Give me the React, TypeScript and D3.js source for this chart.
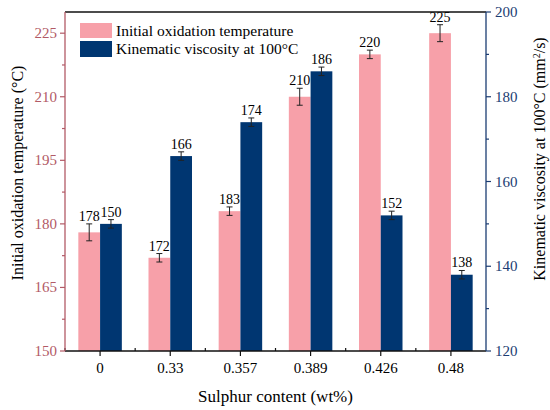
import React from "react";
import * as d3 from "d3";

const categories = ["0", "0.33", "0.357", "0.389", "0.426", "0.48"];
const oxidationTemp = [178, 172, 183, 210, 220, 225];
const oxidationErr = [2, 1, 1, 2, 1, 2];
const viscosity = [150, 166, 174, 186, 152, 138];
const viscosityErr = [1, 1, 1, 1, 1, 1];
const leftTicks = [150, 165, 180, 195, 210, 225];
const leftMinor = [157.5, 172.5, 187.5, 202.5, 217.5];
const rightTicks = [120, 140, 160, 180, 200];
const rightMinor = [130, 150, 170, 190];

const width = 550;
const height = 410;
const marginTop = 12;
const marginRight = 64;
const marginBottom = 59;
const marginLeft = 65;

const pink = "#f7a0a9";
const navy = "#003671";
const leftColor = "#b25a66";
const rightColor = "#1b3c72";
const font = "Liberation Serif, Times New Roman, serif";

export default function App() {
  const x = d3.scaleBand(categories, [marginLeft, width - marginRight]);
  const yL = d3.scaleLinear([150, 230], [height - marginBottom, marginTop]);
  const yR = d3.scaleLinear([120, 200], [height - marginBottom, marginTop]);
  const bw = x.bandwidth() * 0.31;
  const bottom = height - marginBottom;
  const right = width - marginRight;
  const cx = (c: string) => (x(c) ?? 0) + x.bandwidth() / 2;

  const errBar = (xc: number, y0: number, y1: number, key: string) => (
    <g key={key} stroke="#222" strokeWidth={1}>
      <line x1={xc} x2={xc} y1={y0} y2={y1} />
      <line x1={xc - 3} x2={xc + 3} y1={y0} y2={y0} />
      <line x1={xc - 3} x2={xc + 3} y1={y1} y2={y1} />
    </g>
  );

  return (
    <svg width={width} height={height} fontFamily={font} style={{ position: "absolute", left: 0, top: 0 }}>
      <rect width={width} height={height} fill="white" />

      {/* bars */}
      {categories.map((c, i) => (
        <g key={c}>
          <rect x={cx(c) - bw} y={yL(oxidationTemp[i])} width={bw} height={bottom - yL(oxidationTemp[i])} fill={pink} />
          <rect x={cx(c)} y={yR(viscosity[i])} width={bw} height={bottom - yR(viscosity[i])} fill={navy} />
          {errBar(cx(c) - bw / 2, yL(oxidationTemp[i] + oxidationErr[i]), yL(oxidationTemp[i] - oxidationErr[i]), "e1")}
          {errBar(cx(c) + bw / 2, yR(viscosity[i] + viscosityErr[i]), yR(viscosity[i] - viscosityErr[i]), "e2")}
          <text x={cx(c) - bw / 2} y={yL(oxidationTemp[i] + oxidationErr[i]) - 3} textAnchor="middle" fontSize={14}>
            {oxidationTemp[i]}
          </text>
          <text x={cx(c) + bw / 2} y={yR(viscosity[i] + viscosityErr[i]) - 3} textAnchor="middle" fontSize={14}>
            {viscosity[i]}
          </text>
        </g>
      ))}

      {/* frame top */}
      <line x1={marginLeft} x2={right} y1={marginTop} y2={marginTop} stroke="#111" strokeWidth={1.3} />

      {/* x axis */}
      <line x1={marginLeft} x2={right} y1={bottom} y2={bottom} stroke="#111" strokeWidth={1.3} />
      {categories.map((c) => (
        <g key={c}>
          <line x1={cx(c)} x2={cx(c)} y1={bottom} y2={bottom + 5} stroke="#111" strokeWidth={1.2} />
          <line x1={x(c) ?? 0} x2={x(c) ?? 0} y1={bottom} y2={bottom - 3} stroke="#111" strokeWidth={1.2} />
          <text x={cx(c)} y={bottom + 22} textAnchor="middle" fontSize={15}>
            {c}
          </text>
        </g>
      ))}
      <text x={(marginLeft + right) / 2} y={402} textAnchor="middle" fontSize={17}>
        Sulphur content (wt%)
      </text>

      {/* left axis */}
      <line x1={marginLeft} x2={marginLeft} y1={marginTop} y2={bottom} stroke={leftColor} strokeWidth={1.3} />
      {leftTicks.map((t) => (
        <g key={t}>
          <line x1={marginLeft - 5} x2={marginLeft} y1={yL(t)} y2={yL(t)} stroke={leftColor} strokeWidth={1.2} />
          <text x={marginLeft - 8} y={yL(t) + 5} textAnchor="end" fontSize={15} fill={leftColor}>
            {t}
          </text>
        </g>
      ))}
      {leftMinor.map((t) => (
        <line key={t} x1={marginLeft - 3} x2={marginLeft} y1={yL(t)} y2={yL(t)} stroke={leftColor} strokeWidth={1.2} />
      ))}
      <text transform="translate(23,173) rotate(-90)" textAnchor="middle" fontSize={16}>
        Initial oxidation temperature (°C)
      </text>

      {/* right axis */}
      <line x1={right} x2={right} y1={marginTop} y2={bottom} stroke={rightColor} strokeWidth={1.3} />
      {rightTicks.map((t) => (
        <g key={t}>
          <line x1={right} x2={right + 5} y1={yR(t)} y2={yR(t)} stroke={rightColor} strokeWidth={1.2} />
          <text x={right + 9} y={yR(t) + 5} textAnchor="start" fontSize={15} fill={rightColor}>
            {t}
          </text>
        </g>
      ))}
      {rightMinor.map((t) => (
        <line key={t} x1={right} x2={right + 3} y1={yR(t)} y2={yR(t)} stroke={rightColor} strokeWidth={1.2} />
      ))}
      <text transform="translate(545,159) rotate(-90)" textAnchor="middle" fontSize={16}>
        Kinematic viscosity at 100°C (mm<tspan baselineShift="super" fontSize={10}>2</tspan>/s)
      </text>

      {/* legend */}
      <rect x={80} y={23} width={32} height={15} fill={pink} />
      <rect x={80} y={41} width={32} height={16} fill={navy} />
      <text x={116} y={36} fontSize={15.5}>
        Initial oxidation temperature
      </text>
      <text x={116} y={54} fontSize={15.5}>
        Kinematic viscosity at 100°C
      </text>
    </svg>
  );
}
